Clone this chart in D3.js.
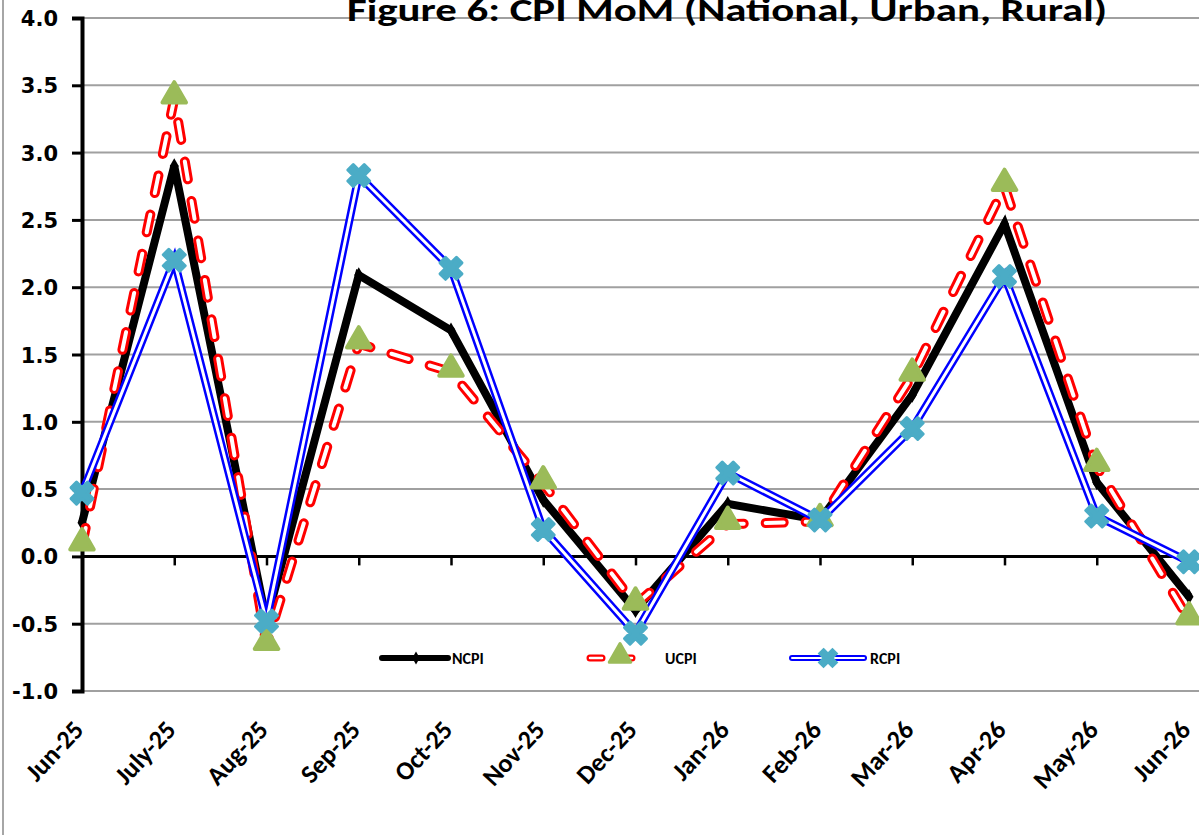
<!DOCTYPE html>
<html>
<head>
<meta charset="utf-8">
<script src="https://cdn.jsdelivr.net/npm/d3@7"></script>
<style>
  body { margin: 0; background: #fff; }
  svg { display: block; }
</style>
</head>
<body>
<script>
var width = 1199;
var height = 835;

// data
var months = ["Jun-25", "July-25", "Aug-25", "Sep-25", "Oct-25", "Nov-25", "Dec-25",
              "Jan-26", "Feb-26", "Mar-26", "Apr-26", "May-26", "Jun-26"];
var ncpi = [0.25, 2.9, -0.48, 2.09, 1.68, 0.42, -0.4, 0.39, 0.27, 1.2, 2.47, 0.55, -0.3];
var ucpi = [0.08, 3.4, -0.66, 1.58, 1.37, 0.54, -0.36, 0.24, 0.26, 1.34, 2.75, 0.67, -0.47];
var rcpi = [0.47, 2.2, -0.48, 2.83, 2.14, 0.2, -0.57, 0.62, 0.27, 0.95, 2.08, 0.3, -0.04];
var yTicks = [-1.0, -0.5, 0.0, 0.5, 1.0, 1.5, 2.0, 2.5, 3.0, 3.5, 4.0];
var legendNames = ["NCPI", "UCPI", "RCPI"];

var plotLeft = 82, plotRight = 1189, plotTop = 18, plotBottom = 691;
var labelFont = "Carlito, 'Open Sans', sans-serif";

var svg = d3.select ("body").append ("svg")
            .attr ("width", width)
            .attr ("height", height);

var x = d3.scalePoint ().domain (months).range ([plotLeft, plotRight]);
var y = d3.scaleLinear ().domain ([-1, 4]).range ([plotBottom, plotTop]);

// figure border on the left
svg.append ("line")
  .attr ("x1", 3).attr ("x2", 3).attr ("y1", 0).attr ("y2", height)
  .style ("stroke", "#a6a6a6").style ("stroke-width", 2);

// gridlines
svg.selectAll (".grid")
    .data (yTicks.filter (function (d) { return d != 0; }))
  .enter ().append ("line")
    .attr ("x1", plotLeft).attr ("x2", width)
    .attr ("y1", function (d) { return y (d); })
    .attr ("y2", function (d) { return y (d); })
    .style ("stroke", "#a0a0a0").style ("stroke-width", 2);

// title (cropped at the top like the original)
svg.append ("text")
  .attr ("x", 727).attr ("y", 21)
  .attr ("text-anchor", "middle")
  .attr ("textLength", 760).attr ("lengthAdjust", "spacingAndGlyphs")
  .style ("font-family", labelFont)
  .style ("font-weight", "bold")
  .style ("font-size", "32px")
  .text ("Figure 6: CPI MoM (National, Urban, Rural)");

// zero line with category ticks
var xAxis = svg.append ("g")
  .attr ("transform", "translate(0," + y (0) + ")")
  .call (d3.axisBottom (x).tickSize (9).tickFormat (""));
xAxis.select (".domain").remove ();
xAxis.selectAll (".tick line").style ("stroke", "#000").style ("stroke-width", 2.5);
svg.append ("line")
  .attr ("x1", plotLeft).attr ("x2", width).attr ("y1", y (0)).attr ("y2", y (0))
  .style ("stroke", "#000").style ("stroke-width", 3);

// y axis
var yAxis = svg.append ("g")
  .attr ("transform", "translate(" + plotLeft + ",0)")
  .call (d3.axisLeft (y).tickValues (yTicks).tickSize (10).tickPadding (14)
         .tickFormat (function (d) { return d3.format (".1f") (d).replace ("\u2212", "-"); }));
yAxis.select (".domain").style ("stroke", "#000").style ("stroke-width", 4);
yAxis.selectAll (".tick line").style ("stroke", "#000").style ("stroke-width", 3);
yAxis.selectAll ("text")
  .style ("font-family", "'DejaVu Sans', sans-serif")
  .style ("font-weight", "bold")
  .style ("font-size", "21px")
  .attr ("dy", "0.36em");

// category labels at the bottom
svg.selectAll (".xlab")
    .data (months)
  .enter ().append ("text")
    .attr ("transform", function (d) { return "translate(" + (x (d) + 3) + ",731) rotate(-47)"; })
    .attr ("text-anchor", "end")
    .style ("font-family", labelFont)
    .style ("font-weight", "bold")
    .style ("font-size", "26px")
    .text (function (d) { return d; });

var line = d3.line ()
  .x (function (d, i) { return x (months[i]); })
  .y (function (d) { return y (d); });

// NCPI
svg.append ("path").datum (ncpi)
  .attr ("d", line)
  .style ("fill", "none").style ("stroke", "#000").style ("stroke-width", 8);
svg.selectAll (".nmark")
    .data (ncpi)
  .enter ().append ("path")
    .attr ("transform", function (d, i) { return "translate(" + x (months[i]) + "," + y (d) + ")"; })
    .attr ("d", d3.symbol ().type (d3.symbolDiamond).size (70))
    .style ("fill", "#000");

// UCPI
svg.append ("path").datum (ucpi)
  .attr ("d", line)
  .style ("fill", "none").style ("stroke", "#ff0000").style ("stroke-width", 10)
  .style ("stroke-linecap", "round").style ("stroke-dasharray", "18,22");
svg.append ("path").datum (ucpi)
  .attr ("d", line)
  .style ("fill", "none").style ("stroke", "#fff").style ("stroke-width", 4)
  .style ("stroke-linecap", "round").style ("stroke-dasharray", "18,22");

// RCPI
svg.append ("path").datum (rcpi)
  .attr ("d", line)
  .style ("fill", "none").style ("stroke", "#0000ff").style ("stroke-width", 8);
svg.append ("path").datum (rcpi)
  .attr ("d", line)
  .style ("fill", "none").style ("stroke", "#fff").style ("stroke-width", 3);

svg.selectAll (".umark")
    .data (ucpi)
  .enter ().append ("path")
    .attr ("transform", function (d, i) { return "translate(" + x (months[i]) + "," + (y (d) - 3) + ")"; })
    .attr ("d", d3.symbol ().type (d3.symbolTriangle).size (240))
    .style ("fill", "#9bbb59").style ("stroke", "#9bbb59")
    .style ("stroke-width", 4).style ("stroke-linejoin", "round");

svg.selectAll (".rmark")
    .data (rcpi)
  .enter ().append ("path")
    .attr ("transform", function (d, i) { return "translate(" + x (months[i]) + "," + y (d) + ") rotate(45)"; })
    .attr ("d", d3.symbol ().type (d3.symbolCross).size (300))
    .style ("fill", "#4bacc6").style ("stroke", "#4bacc6")
    .style ("stroke-width", 3).style ("stroke-linejoin", "round");

// legend
var ly = 658;
var lg = svg.append ("g");
lg.append ("line").attr ("x1", 382).attr ("x2", 448).attr ("y1", ly).attr ("y2", ly)
  .style ("stroke", "#000").style ("stroke-width", 6).style ("stroke-linecap", "round");
lg.append ("path").attr ("transform", "translate(416," + ly + ")")
  .attr ("d", d3.symbol ().type (d3.symbolDiamond).size (50)).style ("fill", "#000");

[["#ff0000", 7], ["#fff", 2.5]].forEach (function (s) {
  lg.append ("line").attr ("x1", 590).attr ("x2", 650).attr ("y1", ly).attr ("y2", ly)
    .style ("stroke", s[0]).style ("stroke-width", s[1])
    .style ("stroke-linecap", "round").style ("stroke-dasharray", "12,18");
});
lg.append ("path").attr ("transform", "translate(620," + (ly - 2) + ")")
  .attr ("d", d3.symbol ().type (d3.symbolTriangle).size (200))
  .style ("fill", "#9bbb59").style ("stroke", "#9bbb59").style ("stroke-width", 3)
  .style ("stroke-linejoin", "round");

lg.append ("line").attr ("x1", 792).attr ("x2", 864).attr ("y1", ly).attr ("y2", ly)
  .style ("stroke", "#0000ff").style ("stroke-width", 6).style ("stroke-linecap", "round");
lg.append ("line").attr ("x1", 792).attr ("x2", 864).attr ("y1", ly).attr ("y2", ly)
  .style ("stroke", "#fff").style ("stroke-width", 2).style ("stroke-linecap", "round");
lg.append ("path").attr ("transform", "translate(828," + ly + ") rotate(45)")
  .attr ("d", d3.symbol ().type (d3.symbolCross).size (200))
  .style ("fill", "#4bacc6").style ("stroke", "#4bacc6").style ("stroke-width", 2);

lg.selectAll ("text")
    .data (legendNames)
  .enter ().append ("text")
    .attr ("x", function (d, i) { return [452, 665, 870][i]; })
    .attr ("y", ly + 6)
    .style ("font-family", labelFont)
    .style ("font-weight", "bold")
    .style ("font-size", "16px")
    .text (function (d) { return d; });
</script>
</body>
</html>
